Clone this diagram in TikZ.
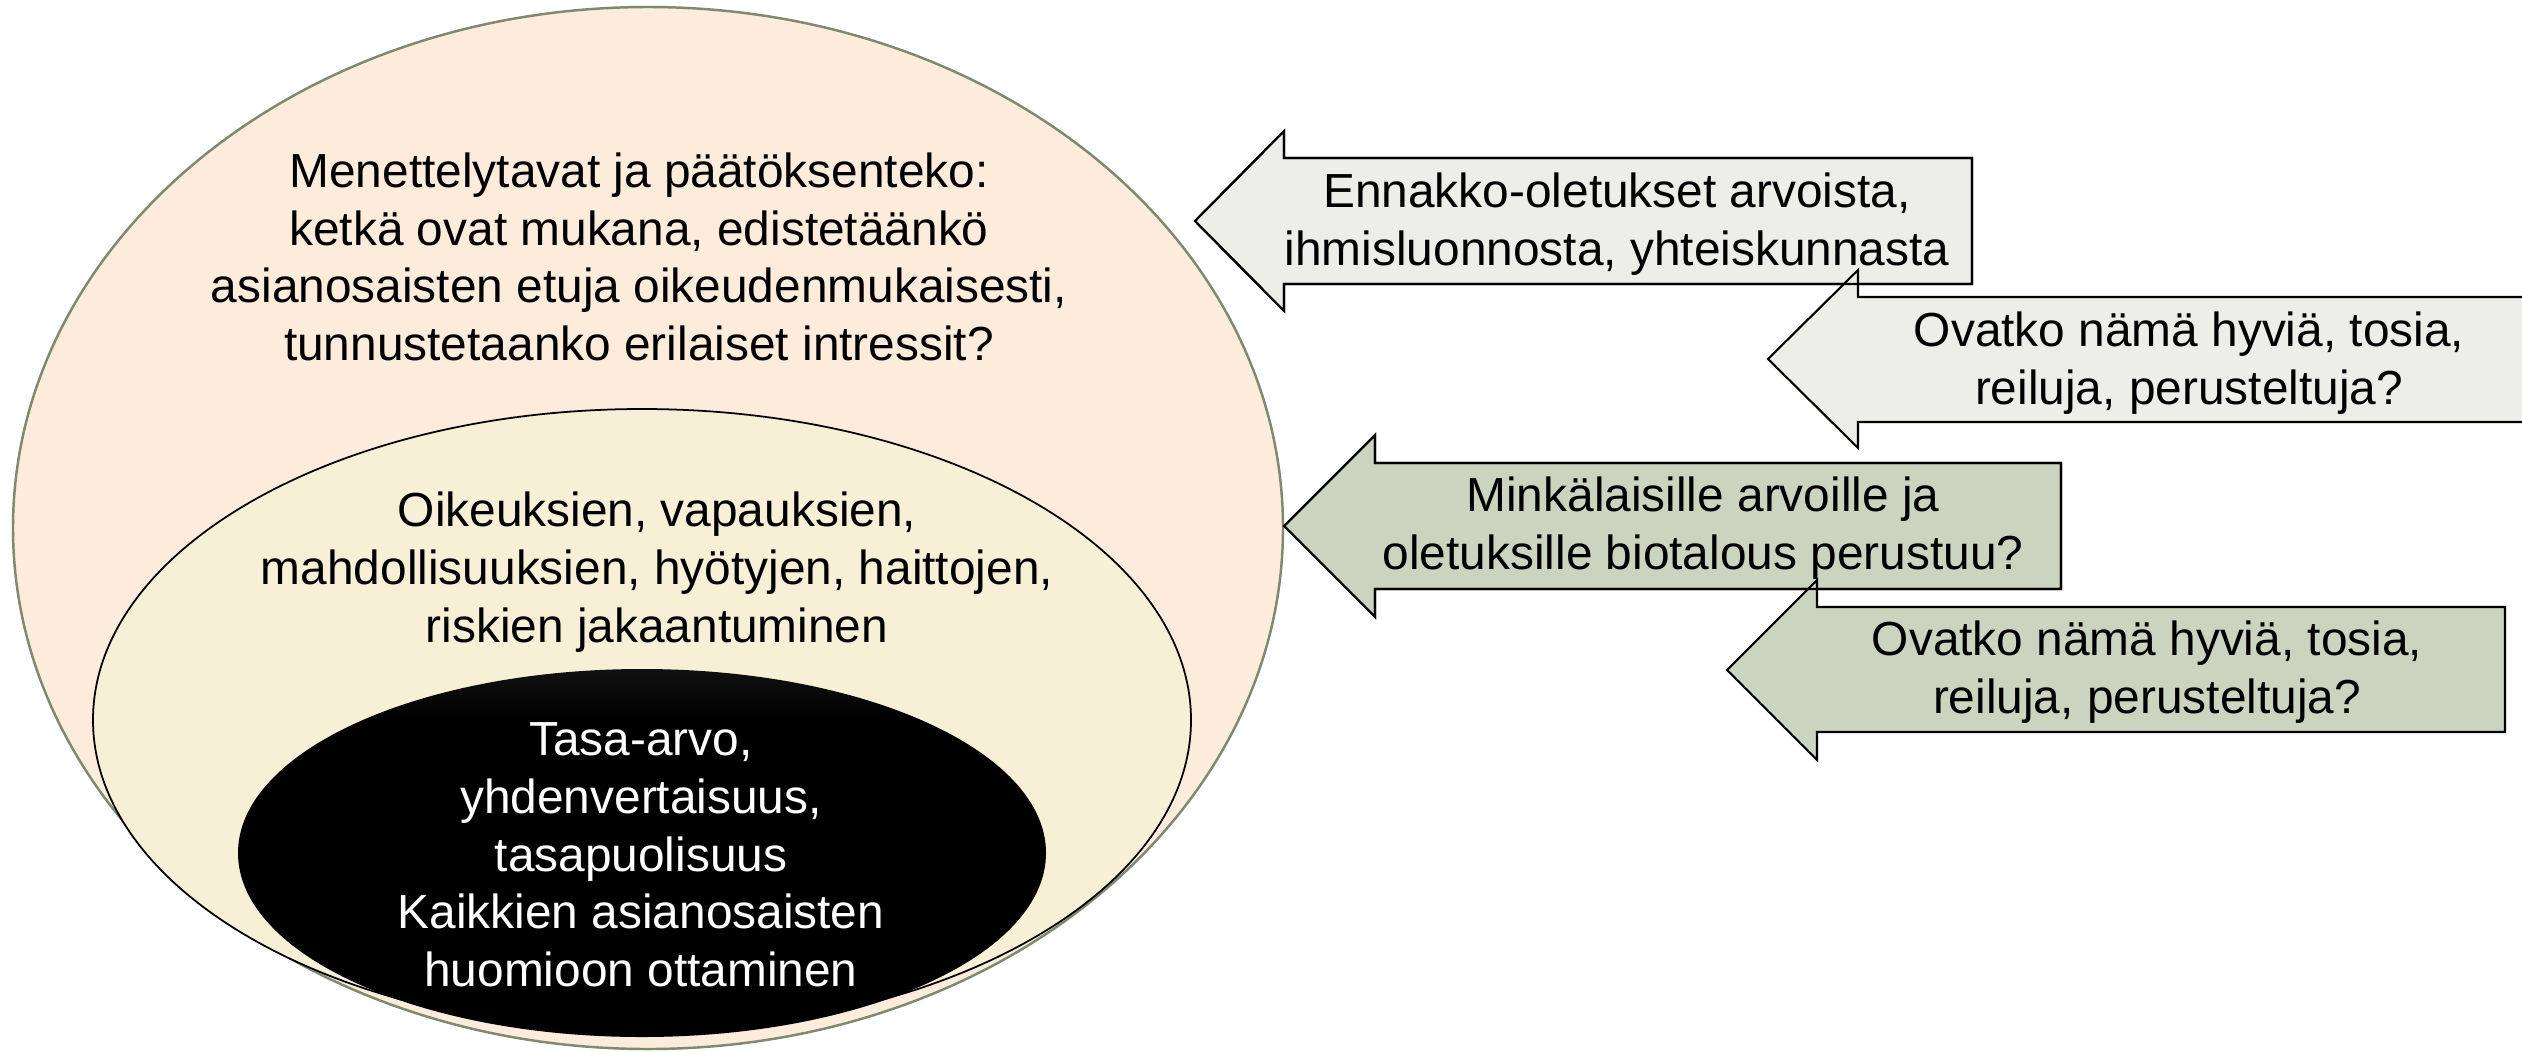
\documentclass[tikz,border=0pt]{standalone}
\usepackage{fontspec}
\setmainfont{Liberation Sans}
\definecolor{peche}{HTML}{FDEBDB}
\definecolor{creme}{HTML}{F8F0D6}
\definecolor{olive}{HTML}{7D8A6E}
\definecolor{clair}{HTML}{ECEEE7}
\definecolor{sauge}{HTML}{CAD4BF}
\pgfdeclareverticalshading{noirdeg}{100bp}{color(0bp)=(black); color(68bp)=(black); color(82bp)=(black!87); color(100bp)=(black!72)}

\begin{document}
\begin{tikzpicture}[x=0.01cm,y=-0.01cm]
\tikzset{texte/.style={align=center,font=\fontsize{13.6}{16.4}\selectfont},
fleche/.style={draw=black,line width=0.6pt,fill=#1},
fleche/.default={clair}}
\useasboundingbox (0,0) rectangle (2522,1051);

\draw[olive,line width=0.7pt,fill=peche] (648,528) ellipse (635 and 521);
\draw[black,line width=0.5pt,fill=creme] (642,720) ellipse (549 and 311);
\shade[shading=noirdeg] (642,853) ellipse (404 and 184);

\node[texte] (menettely) at (639,257) {Menettelytavat ja päätöksenteko:\\
ketkä ovat mukana, edistetäänkö\\
asianosaisten etuja oikeudenmukaisesti,\\
tunnustetaanko erilaiset intressit?};
\node[texte] (jakautuminen) at (657,572) {Oikeuksien, vapauksien,\\
mahdollisuuksien, hyötyjen, haittojen,\\
riskien jakaantuminen};
\node[texte,text=white] (tasaarvo) at (641,855) {Tasa-arvo,\\
yhdenvertaisuus,\\
tasapuolisuus\\
Kaikkien asianosaisten\\
huomioon ottaminen};

\draw[fleche] (1195,221) -- (1284,131) -- (1284,158) -- (1972,158) -- (1972,284) -- (1284,284) -- (1284,311) -- cycle;
\draw[fleche] (1768,359) -- (1858,270) -- (1858,297) -- (2560,297) -- (2560,422) -- (1858,422) -- (1858,448) -- cycle;
\draw[line width=0.6pt] (1195,221) -- (1284,131) -- (1284,158) -- (1972,158) -- (1972,284) -- (1284,284) -- (1284,311) -- cycle;
\draw[fleche=sauge] (1284,526) -- (1375,435) -- (1375,463) -- (2061,463) -- (2061,589) -- (1375,589) -- (1375,617) -- cycle;
\draw[fleche=sauge] (1727,670) -- (1817,580) -- (1817,607) -- (2505,607) -- (2505,732) -- (1817,732) -- (1817,760) -- cycle;
\draw[line width=0.6pt] (1284,526) -- (1375,435) -- (1375,463) -- (2061,463) -- (2061,589) -- (1375,589) -- (1375,617) -- cycle;

\node[texte] (ennakko) at (1617,224) {Ennakko-oletukset arvoista,\\
ihmisluonnosta, yhteiskunnasta};
\node[texte] (ovatko1) at (2189,363) {Ovatko nämä hyviä, tosia,\\
reiluja, perusteltuja?};
\node[texte] (minkalaisille) at (1703,528) {Minkälaisille arvoille ja\\
oletuksille biotalous perustuu?};
\node[texte] (ovatko2) at (2147,672) {Ovatko nämä hyviä, tosia,\\
reiluja, perusteltuja?};
\end{tikzpicture}
\end{document}
